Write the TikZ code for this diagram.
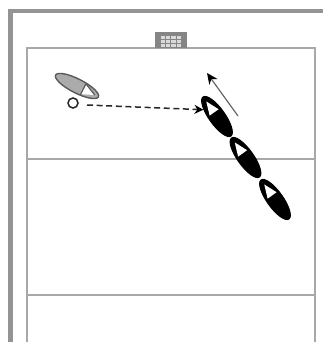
\documentclass[tikz,border=0pt]{standalone}
\usetikzlibrary{shapes.geometric,arrows.meta}
\definecolor{framegray}{gray}{0.58}
\definecolor{linegray}{gray}{0.66}
\tikzset{
  hull/.style={ellipse,inner sep=0pt,minimum width=48pt,minimum height=16pt},
  blackhull/.style={hull,draw=black,fill=black,line width=1pt},
  grayhull/.style={hull,draw=black!65,fill=black!33,line width=1.4pt,minimum height=14pt},
  court/.style={draw=linegray,line width=1.9pt},
  netbox/.style={fill=black!48,draw=none},
  netcell/.style={fill=white!85!black,draw=none},
  ball/.style={circle,draw=black!85,fill=white,line width=1.5pt,minimum size=10pt,inner sep=0pt},
  pass/.style={draw=black!85,line width=1.5pt,dash pattern=on 6pt off 3.6pt,-{Stealth[length=9pt,width=9pt,black]}},
  move/.style={draw=black!60,line width=1.2pt,-{Stealth[length=11pt,width=10pt,black]}}
}
\begin{document}
\begin{tikzpicture}[x=1pt,y=-1pt]
\useasboundingbox (0,0) rectangle (323,342);
\fill[white] (0,0) rectangle (323,342);
% outer frame
\draw[framegray,line width=4.2pt] (10.5,342) -- (10.5,11) -- (323,11);
% court
\draw[court] (27,342) -- (27,48) -- (315,48) -- (315,342);
\draw[court] (27,159) -- (315,159);
\draw[court] (27,295) -- (315,295);
% net icon
\fill[netbox] (155,32) rectangle (187,48);
\foreach \c in {0,1,2,3}{
  \foreach \r in {0,1,2}{
    \fill[netcell] ({160.5+\c*5.4},{36.5+\r*3.6}) rectangle ({165+\c*5.4},{39.5+\r*3.6});
  }
}
% boats
\node[grayhull,rotate=-27] (boatgray) at (77,86) {};
\begin{scope}[shift={(77,86)},rotate=-27]
  \fill[white] (20,0) -- (7,-5.5) -- (7,5.5) -- cycle;
  \draw[black!65,line width=1.2pt] (20,0) -- (7,-6) -- (7,6.5);
\end{scope}
\node[blackhull,rotate=-54.5] (boata) at (217,116.5) {};
\node[blackhull,rotate=-54.5] (boatb) at (245.5,157.5) {};
\node[blackhull,rotate=-54.5] (boatc) at (275,199.5) {};
\foreach \bx/\by in {217/116.5,245.5/157.5,275/199.5}{
  \begin{scope}[shift={(\bx,\by)},rotate=125.5]
    \fill[white] (18.5,0) -- (5,-5.5) -- (5,5.5) -- cycle;
  \end{scope}
}
% ball, pass and movement
\node[ball] (ballnode) at (73,103) {};
\coordinate (passstart) at (87,105);
\coordinate (movestart) at (238,116);
\coordinate (moveend) at (207,73);
\draw[pass] (passstart) -- (boata.208);
\draw[move] (movestart) -- (moveend);
\end{tikzpicture}
\end{document}
